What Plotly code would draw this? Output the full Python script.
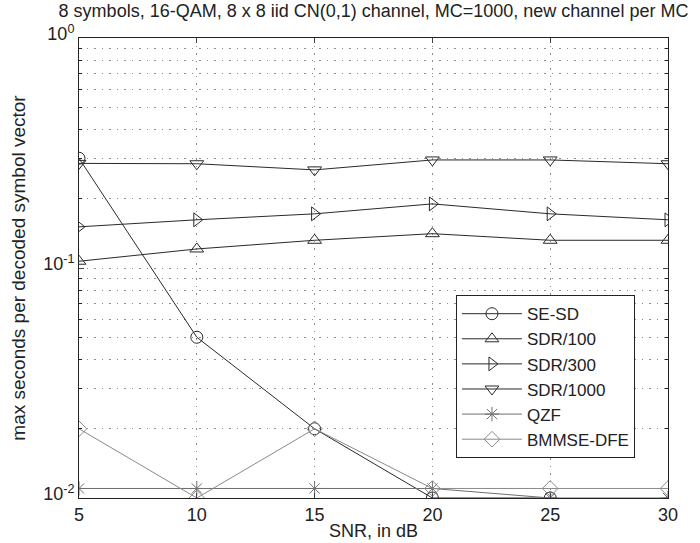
import plotly.graph_objects as go

snr = [5, 10, 15, 20, 25, 30]
se_sd = [0.30, 0.050, 0.020, 0.010, 0.010, 0.0095]
sdr100 = [0.107, 0.121, 0.132, 0.141, 0.132, 0.132]
sdr300 = [0.151, 0.162, 0.172, 0.190, 0.172, 0.162]
sdr1000 = [0.285, 0.284, 0.267, 0.295, 0.295, 0.284]
qzf = [0.011, 0.011, 0.011, 0.011, 0.010, 0.010]
bmmse = [0.020, 0.010, 0.020, 0.011, 0.011, 0.011]

decade_vals = [0.01, 0.1, 1.0]
decade_text = ["10<sup>-2</sup>", "10<sup>-1</sup>", "10<sup>0</sup>"]
minor_vals = [m * d for d in (0.01, 0.1) for m in range(2, 10)]

series = [
    ("SE-SD", se_sd, "circle-open", "#2a2a2a"),
    ("SDR/100", sdr100, "triangle-up-open", "#2a2a2a"),
    ("SDR/300", sdr300, "triangle-right-open", "#2a2a2a"),
    ("SDR/1000", sdr1000, "triangle-down-open", "#2a2a2a"),
    ("QZF", qzf, "asterisk-open", "#6e6e6e"),
    ("BMMSE-DFE", bmmse, "diamond-open", "#8a8a8a"),
]

fig = go.Figure()
for name, vals, sym, col in series:
    fig.add_trace(go.Scatter(
        x=snr, y=vals, name=name, mode="lines+markers",
        line=dict(color=col, width=1),
        marker=dict(symbol=sym, size=12, color=col, line=dict(width=1, color=col)),
    ))

font = "Liberation Sans, Arial, sans-serif"
grid = dict(showgrid=True, gridcolor="#8c8c8c", griddash="1.5px,6px", gridwidth=1)
fig.update_layout(
    width=700, height=543,
    margin=dict(l=79, r=32, t=38, b=45),
    paper_bgcolor="white", plot_bgcolor="white",
    font=dict(family=font, size=18, color="#222"),
    title=dict(text="8 symbols, 16-QAM, 8 x 8 iid CN(0,1) channel, MC=1000, new channel per MC",
               x=0.5, xanchor="center", xref="paper", y=0.992, yanchor="top",
               font=dict(size=18, color="#222")),
    legend=dict(x=0.64, y=0.441, xanchor="left", yanchor="top",
                bordercolor="#222", borderwidth=1, bgcolor="white",
                font=dict(size=17, color="#222"), itemwidth=60,
                tracegroupgap=0),
    xaxis=dict(range=[5, 30], tickvals=snr, ticks="inside", ticklen=5,
               showline=True, linecolor="#222", mirror="ticks",
               zeroline=False, automargin=False,
               tickfont=dict(size=18),
               title=dict(text="SNR, in dB", standoff=0, font=dict(size=18)), **grid),
    yaxis=dict(type="log", range=[-2, 0], tickvals=decade_vals, ticktext=decade_text,
               ticks="inside", ticklen=5, showline=True, linecolor="#222", mirror="ticks",
               zeroline=False, automargin=False, ticklabelshift=-4,
               tickfont=dict(size=18),
               minor=dict(tickmode="array", tickvals=minor_vals, ticks="inside", ticklen=3,
                          tickcolor="#222", showgrid=True, gridcolor="#8c8c8c",
                          griddash="1.5px,6px", gridwidth=1),
               title=dict(text="max seconds per decoded symbol vector", standoff=12,
                          font=dict(size=19)), **grid),
)

fig.write_html("out.html", config={"displayModeBar": False},
               post_script="document.body.style.margin='0';")
